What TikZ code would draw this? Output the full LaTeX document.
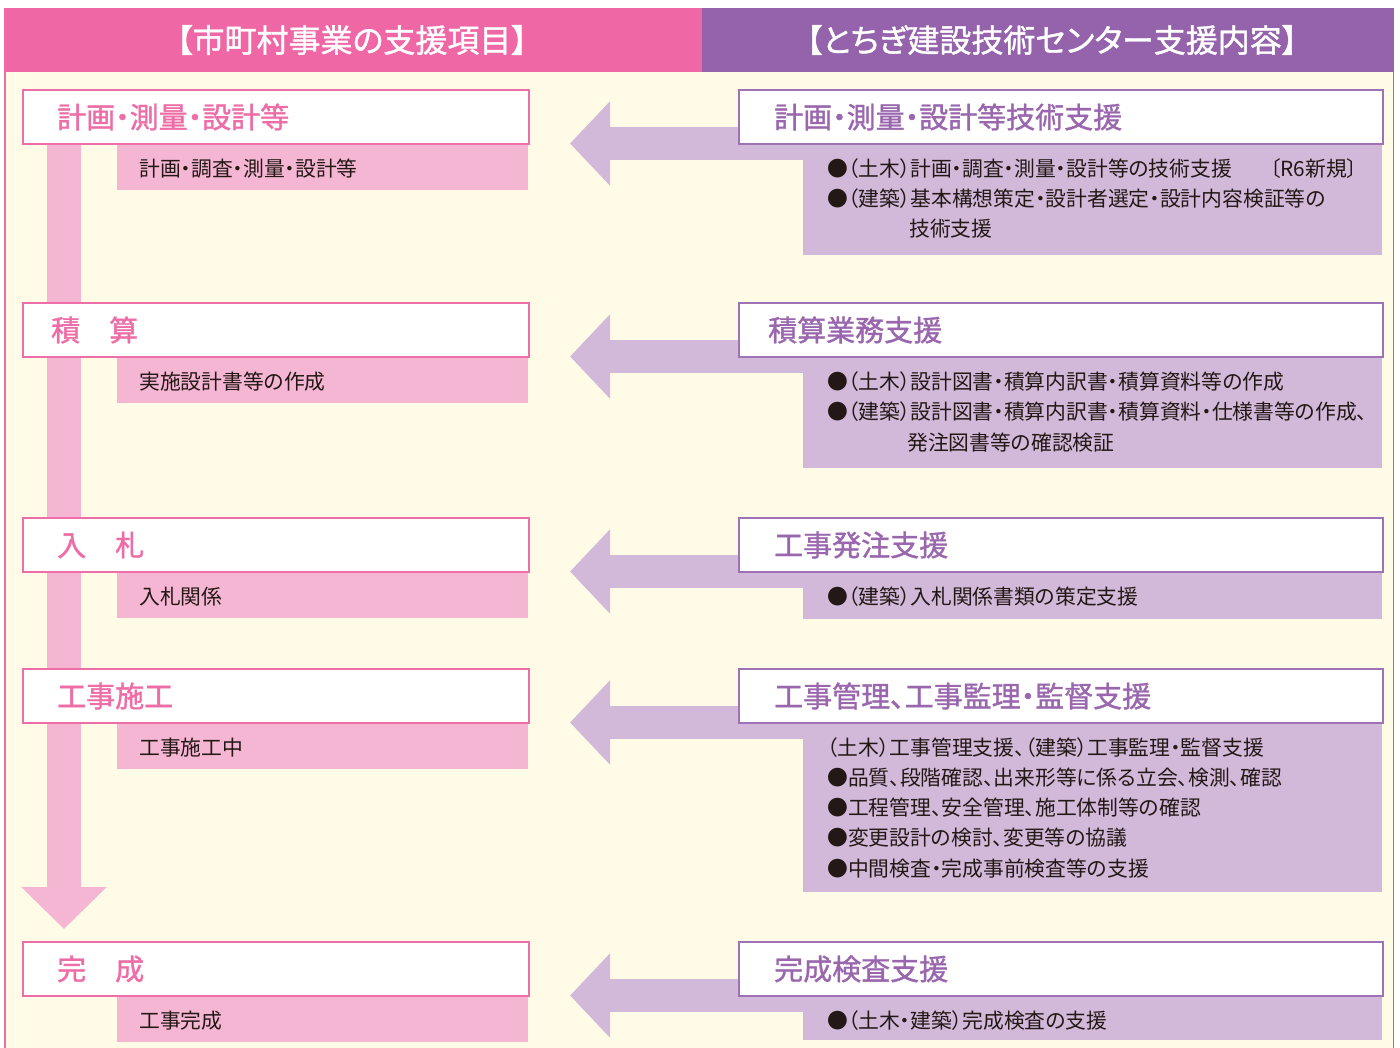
\documentclass[tikz,border=0pt]{standalone}
\usepackage{fontspec}
\setmainfont{Noto Sans CJK JP}[RawFeature={+palt}]
\newfontfamily\ttlfont{Noto Sans CJK JP}[RawFeature={+palt},FakeBold=1.2]
\usetikzlibrary{arrows.meta}
\definecolor{cream}{HTML}{FFFBE7}
\definecolor{pinkH}{HTML}{F067A5}
\definecolor{purpleH}{HTML}{9563AB}
\definecolor{pinkSub}{HTML}{F5B6D4}
\definecolor{purpleSub}{HTML}{D2B8D9}
\definecolor{pinkB}{HTML}{EE6FA8}
\definecolor{purpleB}{HTML}{9E72B4}
\definecolor{pinkT}{HTML}{EE6DA6}
\definecolor{purpleT}{HTML}{9A67AE}
\definecolor{txt}{HTML}{231815}
\begin{document}
\begin{tikzpicture}[x=1pt,y=-1pt,
  hdr/.style={text=white,inner sep=0pt,font=\ttlfont\fontsize{32}{32}\selectfont},
  lbox/.style={draw=pinkB,line width=2pt,fill=white,anchor=north west,minimum width=506pt,minimum height=54pt,inner sep=0pt},
  rbox/.style={draw=purpleB,line width=2pt,fill=white,anchor=north west,minimum width=644pt,minimum height=54pt,inner sep=0pt},
  lsub/.style={fill=pinkSub,anchor=north west,minimum width=411pt,minimum height=47pt,inner sep=0pt},
  rsub/.style={fill=purpleSub,anchor=north west,minimum width=579pt,inner sep=0pt},
  ltitle/.style={anchor=west,inner sep=0pt,text=pinkT,font=\ttlfont\fontsize{29}{29}\selectfont},
  rtitle/.style={anchor=west,inner sep=0pt,text=purpleT,font=\ttlfont\fontsize{29}{29}\selectfont},
  body/.style={anchor=west,inner sep=0pt,text=txt,font=\fontsize{20.8}{20.8}\selectfont},
  parrow/.style={draw=purpleSub,line width=33pt,-{Triangle[width=82pt,length=40pt]}},
  flowarrow/.style={draw=pinkSub,line width=34pt,-{Triangle[width=83pt,length=42pt]}}
]
\useasboundingbox (0,0) rectangle (1400,1048);
% frame
\fill[cream] (4,8) rectangle (1394,1048);
\draw[pinkB,line width=1.5pt] (4.75,8) -- (4.75,1048);
\draw[purpleB,line width=1.5pt] (1393.25,8) -- (1393.25,1048);
\fill[pinkH] (4,8) rectangle (702,72);
\fill[purpleH] (702,8) rectangle (1394,72);
\node[hdr] (h1) at (352,40) {【市町村事業の支援項目】};
\node[hdr] (h2) at (1052,40) {【とちぎ建設技術センター支援内容】};

% flow arrow
\coordinate (fs) at (64,143);
\coordinate (fe) at (64,929);
\draw[flowarrow] (fs) -- (fe);

% right sub boxes
\node[rsub,minimum height=112pt] (R1s) at (803,143) {};
\node[rsub,minimum height=112pt] (R2s) at (803,356) {};
\node[rsub,minimum height=48pt] (R3s) at (803,571) {};
\node[rsub,minimum height=170pt] (R4s) at (803,722) {};
\node[rsub,minimum height=45pt] (R5s) at (803,995) {};

% purple arrows
\coordinate (t1) at (570,143.5);
\coordinate (t2) at (570,356.5);
\coordinate (t3) at (570,571.5);
\coordinate (t4) at (570,722.5);
\coordinate (t5) at (570,995.5);
\draw[parrow] ([yshift=-0.5pt]R1s.north west) -- (t1);
\draw[parrow] ([yshift=-0.5pt]R2s.north west) -- (t2);
\draw[parrow] ([yshift=-0.5pt]R3s.north west) -- (t3);
\draw[parrow] ([yshift=-0.5pt]R4s.north west) -- (t4);
\draw[parrow] ([yshift=-0.5pt]R5s.north west) -- (t5);

% left sub boxes
\node[lsub] (L1s) at (117,143) {};
\node[lsub] (L2s) at (117,356) {};
\node[lsub] (L3s) at (117,571) {};
\node[lsub] (L4s) at (117,722) {};
\node[lsub] (L5s) at (117,995) {};

% title boxes
\node[lbox] (L1) at (22,89) {};
\node[lbox] (L2) at (22,302) {};
\node[lbox] (L3) at (22,517) {};
\node[lbox] (L4) at (22,668) {};
\node[lbox] (L5) at (22,941) {};
\node[rbox] (R1) at (738,89) {};
\node[rbox] (R2) at (738,302) {};
\node[rbox] (R3) at (738,517) {};
\node[rbox] (R4) at (738,668) {};
\node[rbox] (R5) at (738,941) {};

% left titles
\node[ltitle] (L1t) at (57,117) {計画・測量・設計等};
\node[ltitle] (L2t) at (51,330) {積　算};
\node[ltitle] (L3t) at (57,545) {入　札};
\node[ltitle] (L4t) at (57,696) {工事施工};
\node[ltitle] (L5t) at (57,969) {完　成};
% left bodies
\node[body] (L1b) at (139,169) {計画・調査・測量・設計等};
\node[body] (L2b) at (139,382) {実施設計書等の作成};
\node[body] (L3b) at (139,597) {入札関係};
\node[body] (L4b) at (139,748) {工事施工中};
\node[body] (L5b) at (139,1021) {工事完成};

% right titles
\node[rtitle] (R1t) at (774,117) {計画・測量・設計等技術支援};
\node[rtitle] (R2t) at (768,330) {積算業務支援};
\node[rtitle] (R3t) at (774,545) {工事発注支援};
\node[rtitle] (R4t) at (774,696) {工事管理、工事監理・監督支援};
\node[rtitle] (R5t) at (774,969) {完成検査支援};

% right bodies
\node[body] (R1a) at (827,169) {●（土木）計画・調査・測量・設計等の技術支援\hspace{38pt}〔R6新規〕};
\node[body] (R1b) at (827,199) {●（建築）基本構想策定・設計者選定・設計内容検証等の};
\node[body] (R1c) at (909,229) {技術支援};
\node[body] (R2a) at (827,382) {●（土木）設計図書・積算内訳書・積算資料等の作成};
\node[body] (R2b) at (827,412) {●（建築）設計図書・積算内訳書・積算資料・仕様書等の作成、};
\node[body] (R2c) at (907,443) {発注図書等の確認検証};
\node[body] (R3a) at (827,597) {●（建築）入札関係書類の策定支援};
\node[body] (R4a) at (827,748) {（土木）工事管理支援、（建築）工事監理・監督支援};
\node[body] (R4b) at (827,778) {●品質、段階確認、出来形等に係る立会、検測、確認};
\node[body] (R4c) at (827,808) {●工程管理、安全管理、施工体制等の確認};
\node[body] (R4d) at (827,838) {●変更設計の検討、変更等の協議};
\node[body] (R4e) at (827,869) {●中間検査・完成事前検査等の支援};
\node[body] (R5a) at (827,1021) {●（土木・建築）完成検査の支援};
\end{tikzpicture}
\end{document}
